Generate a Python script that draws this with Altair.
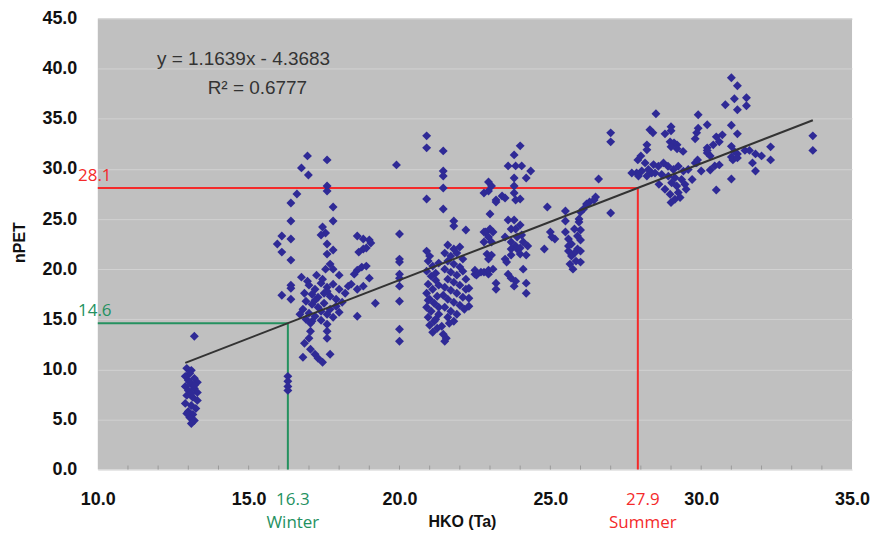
import altair as alt
import pandas as pd

# ---- data ----
winter_pts = [
    (12.95, 10.1), (13.1, 9.9), (13.05, 9.6), (12.9, 9.3), (13.2, 9.1), (13.0, 8.9),
    (13.3, 8.7), (13.1, 8.5), (12.9, 8.3), (13.2, 8.1), (13.0, 7.9), (13.3, 7.7),
    (12.95, 7.4), (13.15, 7.2), (13.3, 6.9), (12.9, 6.6), (13.1, 6.4), (13.25, 6.1),
    (13.0, 5.8), (13.15, 5.5), (13.05, 5.2), (13.2, 4.9), (13.1, 4.6), (13.2, 13.3),
    (13.05, 8.7), (13.2, 8.4), (13.1, 7.6), (12.95, 5.6),
    (16.3, 9.3), (16.3, 8.8), (16.3, 8.3), (16.3, 7.9),
]

cluster_17 = [
    (16.95, 31.3), (17.6, 30.9), (16.75, 30.1), (16.98, 29.4), (17.6, 28.3), (17.6, 27.8),
    (16.6, 27.5), (16.4, 26.6), (17.8, 26.2), (16.4, 24.8), (17.8, 24.8), (17.45, 24.2),
    (17.55, 23.6), (17.4, 23.4), (16.1, 23.3), (15.95, 22.5), (16.4, 23.0), (16.1, 21.7),
    (16.4, 20.9), (17.6, 22.5), (17.6, 21.5), (17.8, 21.9),
    (18.6, 23.3), (18.8, 23.0), (19.0, 22.9), (18.8, 22.0), (18.65, 21.7), (18.9, 22.1),
    (19.05, 22.6), (17.7, 20.5), (17.55, 20.0), (17.8, 20.0), (18.0, 19.4),
    (18.6, 19.9), (18.75, 20.2), (18.9, 20.3), (18.5, 19.5),
    (16.75, 19.2), (16.95, 18.8), (16.4, 18.4), (16.4, 18.1), (16.1, 17.4), (16.4, 17.0),
    (18.4, 18.5), (18.6, 18.0), (18.8, 18.3), (19.0, 19.1), (19.2, 16.6), (18.6, 15.3),
    (17.0, 18.4), (17.2, 18.0), (17.4, 18.6), (17.6, 18.2), (17.8, 18.5), (18.0, 18.0),
    (18.2, 17.6), (17.1, 17.5), (17.3, 17.2), (17.5, 17.6), (17.7, 17.3), (17.9, 17.0),
    (18.1, 16.7), (16.9, 16.8), (17.1, 16.5), (17.3, 16.2), (17.5, 16.6), (17.7, 16.0),
    (17.9, 16.3), (16.8, 16.0), (17.0, 15.6), (17.2, 15.3), (17.4, 15.8), (17.6, 15.5),
    (17.8, 15.2), (16.9, 15.0), (17.1, 14.8), (17.4, 14.9), (16.7, 15.5), (17.2, 16.9),
    (17.6, 17.8), (18.3, 18.3), (17.45, 19.0), (17.25, 19.4), (16.85, 17.6), (18.0, 15.7),
    (17.05, 14.6), (17.05, 13.8), (17.0, 13.1), (16.85, 12.6), (17.05, 12.0), (17.2, 11.5),
    (17.3, 11.1), (17.45, 10.7), (16.8, 11.2), (17.7, 11.5), (17.6, 14.5), (17.6, 13.8),
    (17.6, 13.1),
]

cluster_20 = [
    (19.9, 30.4), (20.0, 23.5), (20.0, 21.0), (20.0, 20.7), (20.0, 19.5), (20.0, 19.1),
    (20.0, 18.3), (20.0, 16.8), (20.0, 14.0), (20.0, 12.8),
]

cluster_21 = [
    (20.9, 33.3), (20.9, 32.1), (21.45, 31.8), (21.45, 29.8), (21.45, 29.3), (21.45, 28.1),
    (20.9, 27.0), (21.45, 26.0), (21.8, 24.8), (21.8, 24.3), (22.2, 23.9), (22.85, 23.7),
    (23.0, 24.0), (22.5, 19.5), (22.7, 19.7), (22.95, 19.5),
    (20.9, 21.8), (21.0, 21.3), (20.95, 20.8), (21.1, 20.3), (20.9, 19.8), (21.05, 19.3),
    (21.2, 18.9), (20.95, 18.5), (21.1, 18.0), (20.9, 17.6), (21.25, 17.3), (21.0, 17.0),
    (21.15, 16.6), (20.9, 16.2), (21.05, 15.8), (21.3, 15.5), (20.95, 15.2), (21.15, 14.8),
    (21.0, 14.4), (21.25, 14.1), (21.1, 13.7), (21.3, 16.2), (21.2, 19.6), (21.3, 18.4),
    (20.95, 16.9), (21.2, 15.0), (21.3, 20.6),
    (21.6, 22.4), (21.8, 22.0), (22.0, 22.2), (21.5, 21.6), (21.7, 21.3), (21.9, 21.6),
    (22.1, 21.0), (21.6, 20.8), (21.8, 20.5), (22.0, 20.2), (21.5, 20.0), (21.7, 19.7),
    (21.9, 19.4), (22.1, 19.8), (21.6, 19.0), (21.8, 18.7), (22.0, 18.4), (21.5, 18.2),
    (21.7, 17.9), (21.9, 17.6), (22.1, 17.2), (21.6, 17.0), (21.8, 16.7), (22.0, 16.4),
    (21.5, 16.2), (21.7, 15.8), (21.9, 15.5), (21.6, 15.2), (21.8, 14.8), (21.45, 13.5),
    (21.55, 13.1), (21.5, 12.8), (21.4, 14.3), (22.2, 18.0), (22.2, 19.0), (22.15, 16.0),
    (21.45, 17.4), (21.65, 14.6),
]

cluster_24 = [
    (24.0, 32.3), (23.8, 31.4), (23.6, 30.3), (23.85, 30.3), (24.05, 30.3), (24.35, 29.8),
    (24.2, 29.1), (23.8, 29.1), (23.8, 28.3), (23.8, 27.6), (23.85, 26.9), (22.95, 28.7),
    (23.05, 28.3), (22.8, 27.6), (22.95, 27.8), (23.4, 27.3), (23.2, 26.9), (23.2, 26.7),
    (23.5, 27.1), (24.0, 27.0), (23.0, 25.5), (24.9, 26.2), (25.5, 25.8), (25.5, 24.8),
    (23.6, 24.9), (23.8, 24.9), (23.7, 24.0), (23.85, 24.0), (24.0, 24.4),
    (22.8, 23.7), (23.1, 23.7), (22.95, 23.2), (22.8, 22.7), (23.05, 22.7),
    (23.5, 23.2), (23.7, 22.7), (23.9, 23.2), (24.05, 23.4), (24.1, 22.7), (23.85, 22.3),
    (23.7, 22.0), (23.9, 22.0), (24.0, 22.1), (24.25, 22.3), (23.7, 21.4), (24.0, 21.5),
    (24.2, 21.4), (25.0, 23.7), (25.15, 23.0), (25.05, 23.2),
    (24.8, 22.0), (22.9, 21.5), (23.05, 21.4), (22.95, 21.0), (23.5, 21.0), (23.55, 20.7),
    (22.5, 19.9), (22.55, 19.4), (22.8, 19.7), (22.95, 19.9), (23.1, 20.0),
    (23.6, 19.5), (23.7, 19.1), (23.85, 18.8), (23.8, 18.3), (24.1, 20.0), (24.2, 18.6),
    (24.2, 17.6), (23.2, 18.6), (23.2, 18.0), (22.3, 18.1), (22.3, 17.1), (22.3, 16.3),
]

cluster_26 = [
    (25.5, 23.7), (25.6, 23.0), (25.7, 22.5), (25.8, 24.0), (25.9, 23.3), (25.6, 21.8),
    (25.8, 21.6), (25.7, 21.3), (25.9, 22.0), (25.75, 20.0), (25.6, 22.3), (25.85, 20.8),
    (25.65, 20.5), (25.95, 24.7), (26.0, 23.9), (26.0, 22.9), (26.0, 21.8), (26.0, 20.7),
    (27.0, 33.6), (27.0, 32.7), (26.6, 29.0), (27.0, 25.6), (26.5, 27.2), (26.45, 26.9),
    (26.3, 26.7), (26.2, 26.5), (26.1, 26.0), (26.0, 25.7), (25.95, 25.0),
]

summer_pts = [
    (31.0, 39.1), (31.2, 38.3), (31.1, 37.0), (31.5, 37.1), (30.8, 36.4), (31.5, 36.3),
    (31.2, 35.9), (28.5, 35.5), (29.9, 35.4), (30.2, 34.4), (31.0, 34.35), (28.3, 33.9),
    (28.4, 33.6), (28.8, 33.5), (29.0, 34.2), (29.0, 33.8), (29.9, 34.05), (29.85, 33.6),
    (29.8, 33.0), (31.2, 33.5), (30.5, 33.2), (30.7, 33.4), (30.6, 32.7), (30.4, 32.4),
    (28.97, 32.7), (29.1, 32.6), (29.2, 32.4), (29.4, 31.75), (29.2, 32.0), (29.0, 32.2),
    (28.2, 32.4), (28.2, 31.9), (28.0, 31.3), (27.9, 30.9), (30.2, 32.1), (30.2, 31.6),
    (30.3, 31.3), (30.2, 31.85), (31.0, 32.25), (31.1, 31.75), (31.2, 31.5), (31.0, 31.2),
    (31.05, 30.9), (31.2, 31.1), (31.45, 31.85), (31.6, 31.85), (31.8, 31.5), (32.0, 31.3),
    (32.3, 32.2), (32.3, 30.9), (31.7, 30.6), (31.8, 29.8), (33.7, 33.3), (33.7, 31.85),
    (31.0, 29.0), (30.5, 27.9), (30.0, 29.8), (30.3, 29.9), (30.45, 30.3), (30.6, 30.4),
    (29.88, 30.9), (29.8, 30.6), (29.7, 28.95), (29.5, 27.97), (29.13, 26.98), (29.0, 26.65),
    (28.8, 27.97), (28.6, 28.46), (28.36, 29.6), (28.2, 29.3), (28.03, 29.8), (27.92, 29.3),
    (28.14, 30.6), (28.42, 30.43), (28.58, 30.27), (28.75, 30.6), (28.9, 30.27), (29.08, 29.94),
    (29.24, 30.27), (29.41, 29.78), (29.57, 29.94), (29.85, 30.6), (28.25, 29.94), (28.47, 29.6),
    (28.69, 29.45), (28.91, 29.28), (29.13, 29.12), (29.35, 28.95), (29.02, 28.62), (29.19, 28.3),
    (29.46, 28.46), (29.24, 27.64), (28.97, 27.47), (29.3, 27.14), (27.86, 29.6), (27.7, 29.6),
]

y_ticks = [0, 5, 10, 15, 20, 25, 30, 35, 40, 45]
x_ticks = [10, 15, 20, 25, 30, 35]
minor_x = list(range(11, 35))

slope, intercept = 1.1639, -4.3683
fit_x = [12.9, 33.7]

winter_x, winter_y = 16.3, 14.6
summer_x, summer_y = 27.9, 28.1

# ---- frames ----
pts = pd.DataFrame(winter_pts + cluster_17 + cluster_20 + cluster_21 + cluster_24
                   + cluster_26 + summer_pts, columns=["x", "y"])
fit = pd.DataFrame({"x": fit_x, "y": [slope * v + intercept for v in fit_x]})
minor = pd.DataFrame({"x": minor_x, "y": 0.0, "y2": 0.4})

RED = "#f42a2a"
GREEN = "#24915f"

xs = alt.Scale(domain=[10, 35], nice=False, zero=False)
ys = alt.Scale(domain=[0, 45], nice=False)

xaxis = alt.Axis(values=x_ticks, format=".1f", grid=False, ticks=False, domain=False,
                 labelFont="Liberation Sans", labelFontSize=18, labelFontWeight="bold",
                 labelColor="#111", labelPadding=21, labelFlush=False,
                 title="HKO (Ta)", titleFont="Liberation Sans", titleFontSize=16,
                 titleFontWeight="bold", titleColor="#111", titleX=365, titleY=44)
yaxis = alt.Axis(values=y_ticks, format=".1f", grid=True, gridColor="#d2d2d2", gridWidth=1,
                 ticks=False, domain=False,
                 labelFont="Liberation Sans", labelFontSize=18, labelFontWeight="bold",
                 labelColor="#111", labelPadding=21, labelFlush=False,
                 title="nPET", titleFont="Liberation Sans", titleFontSize=16,
                 titleFontWeight="bold", titleColor="#111", titleX=-70, titleY=224)

base_pts = alt.Chart(pts).mark_point(shape="diamond", filled=True, size=80, opacity=1,
                                     color="#2f2a96").encode(
    x=alt.X("x:Q", scale=xs, axis=xaxis),
    y=alt.Y("y:Q", scale=ys, axis=yaxis),
)

minor_ticks = alt.Chart(minor).mark_rule(color="#9a9a9a", strokeWidth=1).encode(
    x="x:Q", y="y:Q", y2="y2:Q")

ref = pd.DataFrame([
    {"x": 10, "x2": winter_x, "y": winter_y, "y2": winter_y, "c": "w"},
    {"x": winter_x, "x2": winter_x, "y": 0, "y2": winter_y, "c": "w"},
    {"x": 10, "x2": summer_x, "y": summer_y, "y2": summer_y, "c": "s"},
    {"x": summer_x, "x2": summer_x, "y": 0, "y2": summer_y, "c": "s"},
])
ref_lines = alt.Chart(ref).mark_rule(strokeWidth=2).encode(
    x="x:Q", x2="x2:Q", y="y:Q", y2="y2:Q",
    color=alt.Color("c:N", scale=alt.Scale(domain=["w", "s"], range=[GREEN, RED]), legend=None),
)

fit_line = alt.Chart(fit).mark_line(color="#333333", strokeWidth=2).encode(x="x:Q", y="y:Q")

eq = pd.DataFrame({"x": [14.83, 15.29], "y": [40.97, 38.06],
                   "t": [f"y = {slope}x - {abs(intercept)}", "R\u00b2 = 0.6777"]})
eq_text = alt.Chart(eq).mark_text(font="Liberation Sans", fontSize=19, color="#333333",
                                  baseline="middle", align="center").encode(
    x="x:Q", y="y:Q", text="t:N")

lbl_font = "Open Sans"
val_lbl = pd.DataFrame({"x": [9.9, 9.9], "y": [winter_y, summer_y],
                        "t": [f"{winter_y}", f"{summer_y}"], "c": ["w", "s"]})
val_text = alt.Chart(val_lbl).mark_text(font=lbl_font, fontSize=17, baseline="bottom",
                                        align="center", dy=-3).encode(
    x="x:Q", y="y:Q", text="t:N",
    color=alt.Color("c:N", scale=alt.Scale(domain=["w", "s"], range=[GREEN, RED]), legend=None))

season = pd.DataFrame({"x": [winter_x, summer_x], "y": [0, 0],
                       "t1": [f"{winter_x}", f"{summer_x}"], "t2": ["Winter", "Summer"],
                       "c": ["w", "s"]})
s_val = alt.Chart(season).mark_text(font=lbl_font, fontSize=17, baseline="middle",
                                    align="center", dy=31, dx=5).encode(
    x="x:Q", y="y:Q", text="t1:N",
    color=alt.Color("c:N", scale=alt.Scale(domain=["w", "s"], range=[GREEN, RED]), legend=None))
s_name = alt.Chart(season).mark_text(font=lbl_font, fontSize=17, baseline="middle",
                                     align="center", dy=54, dx=5).encode(
    x="x:Q", y="y:Q", text="t2:N",
    color=alt.Color("c:N", scale=alt.Scale(domain=["w", "s"], range=[GREEN, RED]), legend=None))

chart = alt.layer(minor_ticks, ref_lines, base_pts, fit_line, eq_text, val_text, s_val, s_name).properties(
    width=756, height=452,
    padding={"left": 90, "top": 10, "right": 20, "bottom": 74},
    autosize=alt.AutoSizeParams(type="none"),
).configure_view(fill="#c0c0c0", stroke=None)

chart.save("out.html", embed_options={"renderer": "svg", "actions": False})
